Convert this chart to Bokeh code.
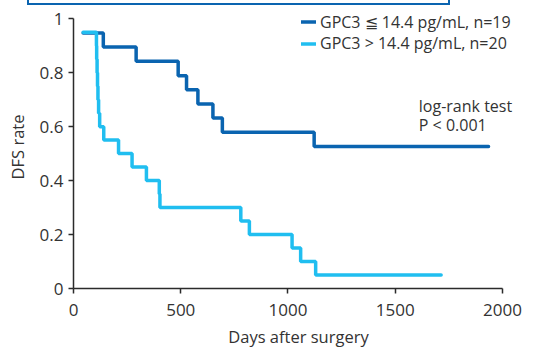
from bokeh.plotting import figure
from bokeh.models import Range1d, Legend, LegendItem, FixedTicker, Label, Div
from bokeh.layouts import column
from bokeh.embed import file_html
from bokeh.resources import INLINE

# ---- data ----
low_days = [45, 139, 292, 488, 527, 580, 650, 694, 1122, 1935]
low_surv = [0.947, 0.895, 0.842, 0.789, 0.737, 0.684, 0.632, 0.579, 0.526, 0.526]

high_days = [45, 107, 108, 110, 112, 114, 117, 122, 141, 210, 273, 340, 400, 403,
             780, 820, 1019, 1059, 1129, 1714]
high_surv = [0.95, 0.90, 0.85, 0.80, 0.75, 0.70, 0.65, 0.60, 0.55, 0.50, 0.45, 0.40,
             0.35, 0.30, 0.25, 0.20, 0.15, 0.10, 0.05, 0.05]

series_labels = ["GPC3 \u2266 14.4 pg/mL, n=19", "GPC3 > 14.4 pg/mL, n=20"]
x_ticks = [0, 500, 1000, 1500, 2000]
y_ticks = [0, 0.2, 0.4, 0.6, 0.8, 1]
y_tick_labels = ["0", "0.2", "0.4", "0.6", "0.8", "1"]
note_lines = ["log-rank test", "P < 0.001"]
note_pos = (1610, 0.717)

DARK = "#0a64b0"
LIGHT = "#20bef0"
AXIS = "#2b2b2b"
FONT = "Open Sans"

# cropped edge of a framed box visible at the very top of the reference
edge = "2px solid %s" % DARK
top_edge = Div(text="", width=423, height=5, margin=(0, 0, 0, 27),
               styles={"border-left": edge, "border-right": edge,
                       "border-bottom": edge, "box-sizing": "border-box"})

# frame spans a little beyond the axis ends so that the legend and note are
# not clipped; the axes stop at their bounds
p = figure(width=544, height=345, output_backend="svg", toolbar_location=None,
           x_range=Range1d(0, 2098), y_range=Range1d(0, 1.049),
           min_border_left=73, min_border_right=21, min_border_top=0,
           min_border_bottom=61, margin=(0, 0, 0, 0))
p.outline_line_color = None
p.grid.visible = False
p.background_fill_color = "white"

r_low = p.step(low_days, low_surv, mode="after", line_color=DARK, line_width=3.5,
               line_cap="round")
r_high = p.step(high_days, high_surv, mode="after", line_color=LIGHT, line_width=3.5,
                line_cap="round")

for ax in (p.xaxis[0], p.yaxis[0]):
    ax.axis_line_color = AXIS
    ax.axis_line_width = 1.5
    ax.major_tick_line_color = AXIS
    ax.major_tick_line_width = 1.5
    ax.major_tick_out = 5
    ax.major_tick_in = 0
    ax.minor_tick_line_color = None
    ax.major_label_text_font = FONT
    ax.major_label_text_font_size = "17px"
    ax.major_label_text_color = "#333333"
    ax.axis_label_text_font = FONT
    ax.axis_label_text_font_size = "16.5px"
    ax.axis_label_text_font_style = "normal"
    ax.axis_label_text_color = "#333333"

p.xaxis[0].ticker = FixedTicker(ticks=x_ticks)
p.yaxis[0].ticker = FixedTicker(ticks=y_ticks)
p.xaxis[0].bounds = (x_ticks[0], x_ticks[-1])
p.yaxis[0].bounds = (y_ticks[0], y_ticks[-1])
p.yaxis[0].major_label_overrides = {t: s for t, s in zip(y_ticks, y_tick_labels)}
p.xaxis[0].axis_label = "Days after surgery"
p.yaxis[0].axis_label = "DFS rate"
p.xaxis[0].major_label_standoff = 10
p.xaxis[0].axis_label_standoff = 6
p.yaxis[0].major_label_standoff = 5
p.yaxis[0].axis_label_standoff = 8

# one legend per entry so the rows can sit as close as in the reference
for renderer, label, y_loc in zip([r_low, r_high], series_labels, [255.5, 233.7]):
    lg = Legend(items=[LegendItem(label=label, renderers=[renderer])],
                location=(228, y_loc), orientation="vertical",
                label_text_font=FONT, label_text_font_size="16px",
                label_text_color="#333333",
                glyph_width=15, glyph_height=17, label_height=17, label_standoff=4,
                spacing=0, padding=0, margin=0,
                border_line_alpha=0, background_fill_alpha=0)
    p.add_layout(lg, "center")

p.add_layout(Label(x=note_pos[0], y=note_pos[1], text="\n".join(note_lines),
                   text_font=FONT, text_font_size="16px", text_color="#333333",
                   text_baseline="top", text_line_height=0.87))

layout = column(top_edge, p, spacing=0, margin=(0, 0, 0, 0))
open("out.html", "w").write(file_html(layout, INLINE))
